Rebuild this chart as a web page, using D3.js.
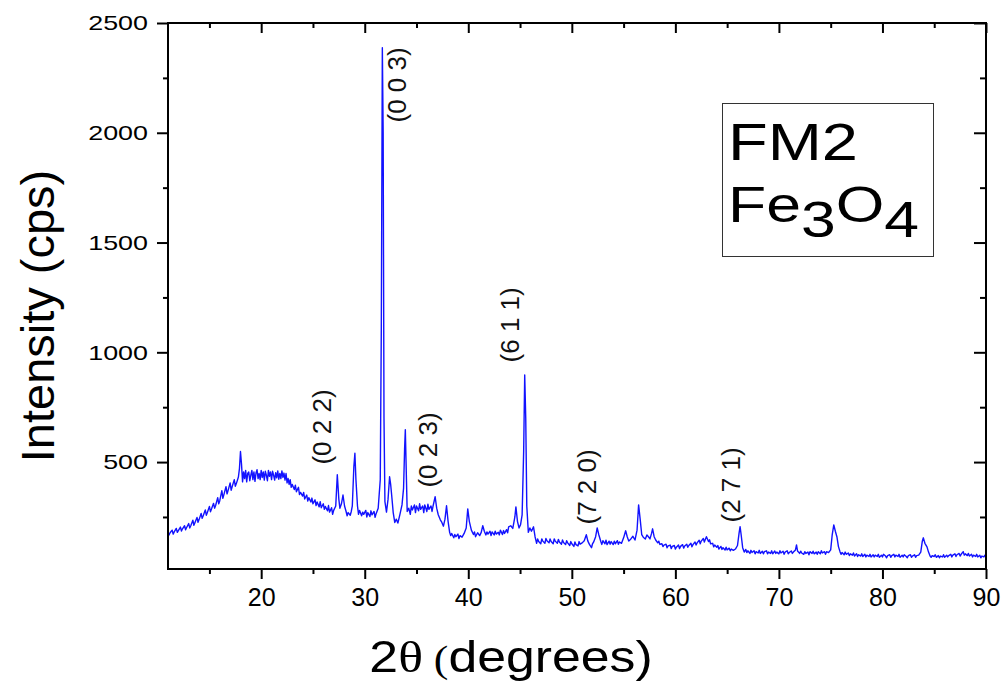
<!DOCTYPE html>
<html><head><meta charset="utf-8">
<script src="https://cdn.jsdelivr.net/npm/d3@7"></script>
<style>body{margin:0;background:#fff} svg{display:block}</style>
</head><body>
<svg id="c" width="1005" height="689"></svg>
<script>
// XRD pattern: [2θ (degrees), intensity (cps)]
const pattern = [
[11.0,182],[11.1,168],[11.2,178],[11.4,190],[11.5,172],[11.6,182],[11.8,198],[11.9,180],[12.0,188],[12.2,204],
[12.3,186],[12.4,196],[12.6,210],[12.7,192],[12.8,202],[13.0,220],[13.1,200],[13.2,210],[13.4,235],[13.5,212],
[13.6,224],[13.8,248],[13.9,226],[14.0,238],[14.2,266],[14.3,244],[14.4,256],[14.6,282],[14.7,258],[14.8,270],
[15.0,298],[15.1,274],[15.2,286],[15.4,312],[15.5,290],[15.6,302],[15.8,338],[15.9,310],[16.0,324],[16.2,370],
[16.3,335],[16.4,352],[16.6,388],[16.7,355],[16.8,370],[17.0,405],[17.1,372],[17.2,388],[17.4,420],[17.5,390],
[17.6,402],[17.8,432],[17.9,470],[18.0,548],[18.1,490],[18.2,410],[18.3,455],[18.4,425],[18.5,462],[18.6,410],
[18.7,448],[18.8,455],[18.9,415],[19.0,440],[19.1,462],[19.2,420],[19.3,455],[19.4,412],[19.5,450],[19.6,465],
[19.7,425],[19.8,448],[19.9,420],[20.0,462],[20.1,430],[20.2,455],[20.3,418],[20.4,458],[20.5,440],[20.6,415],
[20.7,462],[20.8,435],[20.9,455],[21.0,420],[21.1,458],[21.2,440],[21.3,418],[21.4,452],[21.5,428],[21.6,460],
[21.7,422],[21.8,448],[21.9,425],[22.0,460],[22.1,430],[22.2,450],[22.3,418],[22.4,448],[22.5,405],[22.6,425],
[22.7,398],[22.8,420],[22.9,385],[23.0,398],[23.2,375],[23.3,395],[23.4,365],[23.6,385],[23.7,352],[23.8,362],
[24.0,345],[24.1,362],[24.2,332],[24.4,350],[24.5,322],[24.6,338],[24.8,318],[24.9,336],[25.0,310],[25.2,328],
[25.3,302],[25.4,318],[25.6,296],[25.7,320],[25.8,292],[26.0,310],[26.1,285],[26.2,298],[26.4,278],[26.5,302],
[26.6,272],[26.8,292],[26.9,262],[27.0,280],[27.2,300],[27.35,442],[27.5,330],[27.6,290],[27.75,310],[27.9,350],
[28.05,300],[28.2,275],[28.3,255],[28.4,270],[28.6,258],[28.7,275],[28.8,300],[28.95,480],[29.05,540],[29.15,420],
[29.3,300],[29.4,262],[29.5,280],[29.7,255],[29.8,272],[29.9,262],[30.1,280],[30.2,250],[30.3,270],[30.5,252],
[30.6,278],[30.7,260],[30.9,275],[31.0,248],[31.1,265],[31.3,290],[31.5,420],[31.6,1100],[31.7,2387],[31.78,2000],
[31.86,700],[31.95,320],[32.1,272],[32.25,330],[32.4,433],[32.5,400],[32.6,350],[32.75,270],[32.9,225],[33.05,240],
[33.2,222],[33.4,262],[33.6,305],[33.75,380],[33.85,560],[33.92,647],[34.0,480],[34.1,275],[34.25,290],[34.4,262],
[34.5,300],[34.6,282],[34.8,305],[34.9,270],[35.0,300],[35.2,278],[35.3,310],[35.4,285],[35.6,300],[35.7,270],
[35.8,305],[36.0,275],[36.1,308],[36.2,285],[36.4,300],[36.5,275],[36.6,300],[36.8,342],[36.95,290],[37.1,260],
[37.3,237],[37.45,225],[37.6,208],[37.75,240],[37.9,301],[38.05,230],[38.2,180],[38.3,165],[38.4,175],[38.6,155],
[38.7,170],[38.8,160],[39.0,172],[39.1,152],[39.2,165],[39.4,158],[39.6,175],[39.8,200],[39.95,287],[40.1,230],
[40.3,190],[40.5,170],[40.6,182],[40.7,160],[40.9,178],[41.1,165],[41.25,180],[41.4,210],[41.55,185],[41.7,168],
[41.8,182],[41.9,172],[42.1,185],[42.2,165],[42.3,182],[42.5,168],[42.6,185],[42.7,172],[42.9,180],[43.0,168],
[43.1,190],[43.3,170],[43.4,188],[43.5,175],[43.7,192],[43.8,178],[43.9,205],[44.1,210],[44.3,198],[44.5,250],
[44.6,296],[44.75,230],[44.9,200],[45.05,215],[45.2,260],[45.35,550],[45.45,897],[45.55,700],[45.65,300],[45.8,180],
[45.95,200],[46.1,185],[46.3,205],[46.45,160],[46.6,130],[46.7,150],[46.8,138],[47.0,128],[47.1,150],[47.2,140],
[47.4,130],[47.5,152],[47.6,142],[47.8,132],[47.9,150],[48.0,138],[48.2,128],[48.3,150],[48.4,140],[48.6,130],
[48.7,148],[48.8,136],[49.0,126],[49.1,145],[49.2,134],[49.4,124],[49.5,142],[49.6,132],[49.8,120],[49.9,138],
[50.0,128],[50.2,116],[50.3,136],[50.4,124],[50.6,118],[50.7,138],[50.8,126],[51.0,132],[51.2,142],[51.4,169],
[51.55,140],[51.7,125],[51.9,110],[52.0,128],[52.1,135],[52.3,160],[52.45,200],[52.6,170],[52.8,138],[52.9,125],
[53.0,142],[53.2,128],[53.3,144],[53.4,124],[53.6,140],[53.7,126],[53.8,138],[54.0,124],[54.1,140],[54.2,128],
[54.4,142],[54.5,126],[54.6,136],[54.8,130],[55.0,155],[55.2,187],[55.35,160],[55.5,140],[55.7,150],[55.9,162],
[56.1,145],[56.3,190],[56.45,305],[56.6,240],[56.75,170],[56.9,158],[57.1,150],[57.25,168],[57.4,160],[57.55,150],
[57.7,175],[57.8,196],[57.95,160],[58.1,145],[58.3,132],[58.4,140],[58.5,125],[58.7,128],[58.8,115],[58.9,122],
[59.1,126],[59.2,110],[59.3,118],[59.5,122],[59.6,106],[59.7,116],[59.9,120],[60.0,104],[60.1,112],[60.3,122],
[60.4,106],[60.5,116],[60.7,124],[60.8,108],[60.9,118],[61.1,126],[61.2,112],[61.3,120],[61.5,130],[61.6,114],
[61.7,124],[61.9,136],[62.0,122],[62.1,132],[62.3,144],[62.4,128],[62.5,140],[62.7,152],[62.8,136],[62.9,148],
[63.0,160],[63.2,138],[63.3,146],[63.4,128],[63.6,130],[63.7,114],[63.8,122],[64.0,112],[64.1,120],[64.2,104],
[64.4,116],[64.5,102],[64.6,110],[64.8,100],[64.9,112],[65.0,100],[65.2,108],[65.3,96],[65.4,104],[65.6,98],
[65.8,104],[66.0,120],[66.15,175],[66.25,206],[66.35,170],[66.5,110],[66.65,90],[66.8,102],[66.9,88],[67.0,96],
[67.2,84],[67.3,98],[67.4,88],[67.6,96],[67.7,82],[67.8,92],[68.0,86],[68.1,98],[68.2,84],[68.4,94],
[68.5,82],[68.6,92],[68.8,96],[68.9,82],[69.0,90],[69.2,84],[69.3,96],[69.4,82],[69.6,95],[69.7,84],
[69.8,90],[70.0,82],[70.1,96],[70.2,86],[70.4,94],[70.5,80],[70.6,90],[70.8,96],[70.9,82],[71.0,88],
[71.2,95],[71.3,84],[71.4,90],[71.6,100],[71.7,123],[71.8,95],[72.0,84],[72.1,94],[72.2,86],[72.4,80],
[72.5,92],[72.6,84],[72.8,90],[72.9,78],[73.0,92],[73.2,84],[73.3,94],[73.4,82],[73.6,90],[73.7,80],
[73.8,92],[74.0,82],[74.1,96],[74.2,86],[74.4,92],[74.5,80],[74.6,92],[74.8,88],[75.0,100],[75.15,170],
[75.3,214],[75.45,185],[75.6,160],[75.75,115],[75.9,92],[76.0,80],[76.1,88],[76.3,78],[76.4,90],[76.5,80],
[76.7,86],[76.8,74],[76.9,82],[77.1,76],[77.2,86],[77.3,72],[77.5,82],[77.6,70],[77.7,78],[77.9,72],
[78.0,82],[78.1,70],[78.3,80],[78.4,68],[78.5,76],[78.7,70],[78.8,80],[78.9,68],[79.1,78],[79.2,68],
[79.3,76],[79.5,70],[79.6,80],[79.7,66],[79.9,76],[80.0,68],[80.1,80],[80.3,72],[80.4,64],[80.5,74],
[80.7,78],[80.8,66],[80.9,74],[81.1,80],[81.2,68],[81.3,76],[81.5,70],[81.6,80],[81.7,66],[81.9,76],
[82.0,68],[82.1,78],[82.3,70],[82.4,64],[82.5,74],[82.7,78],[82.8,66],[82.9,72],[83.1,78],[83.2,66],
[83.3,74],[83.5,76],[83.7,90],[83.85,140],[83.95,155],[84.1,130],[84.3,114],[84.45,90],[84.6,72],[84.7,66],
[84.8,74],[85.0,70],[85.1,78],[85.2,66],[85.4,74],[85.5,64],[85.6,72],[85.8,68],[85.9,78],[86.0,66],
[86.2,76],[86.3,68],[86.4,74],[86.6,80],[86.7,68],[86.8,76],[87.0,82],[87.1,70],[87.2,78],[87.4,84],
[87.5,72],[87.6,80],[87.8,92],[87.9,76],[88.0,82],[88.2,74],[88.3,84],[88.4,72],[88.6,80],[88.7,68],
[88.8,76],[89.0,70],[89.1,80],[89.2,68],[89.4,76],[89.5,64],[89.6,72],[89.8,68],[89.9,76],[90.0,68]
];

const xMajorTicks = [20, 30, 40, 50, 60, 70, 80, 90];
const xMinorTicks = [15, 25, 35, 45, 55, 65, 75, 85];
const yMajorTicks = [500, 1000, 1500, 2000, 2500];
const yMinorTicks = [250, 750, 1250, 1750, 2250];
const xDomain = [11, 90];
const yDomain = [13, 2500];

// Miller-index annotations placed at (2θ, intensity)
const peakLabels = ["(0 0 3)", "(0 2 2)", "(0 2 3)", "(6 1 1)", "(7 2 0)", "(2 7 1)"];
const peakLabelX = [33.1, 25.9, 36.1, 44.0, 51.5, 65.4];
const peakLabelY = [2218, 660, 555, 1125, 387, 396];

const xTitle = ["2", "θ", " (", "degrees)"];
const yTitle = "Intensity (cps)";
const legendName = "FM2";
const legendFormula = [["Fe", 0], ["3", 1], ["O", 0], ["4", 1]];

const FONT = "'Liberation Sans', Arial, sans-serif";
const SERIF = "'Liberation Serif', 'Times New Roman', serif";
const svg = d3.select("#c");
const x = d3.scaleLinear().domain(xDomain).range([168, 986]);
const y = d3.scaleLinear().domain(yDomain).range([569, 23]);

svg.append("rect").attr("width",1005).attr("height",689).attr("fill","#fff");

svg.append("clipPath").attr("id","clip").append("rect")
  .attr("x",x.range()[0]).attr("y",y.range()[1])
  .attr("width",x.range()[1]-x.range()[0]).attr("height",y.range()[0]-y.range()[1]);

svg.append("path").datum(pattern)
  .attr("clip-path","url(#clip)")
  .attr("fill","none").attr("stroke","#1212ff").attr("stroke-width",1.4)
  .attr("stroke-linejoin","round")
  .attr("d", d3.line().x(d=>x(d[0])).y(d=>y(d[1])));

function styleAxis(g){
  g.select(".domain").remove();
  g.selectAll(".tick line").attr("stroke","#000").attr("stroke-width",2);
}
const yb = y.range()[0], yt = y.range()[1], xl = x.range()[0], xr = x.range()[1];
const ySX = 1.28;

svg.append("g").attr("transform",`translate(0,${yb})`)
  .call(d3.axisBottom(x).tickValues(xMajorTicks).tickSize(10).tickPadding(9).tickFormat(d3.format("d")))
  .call(styleAxis)
  .call(g=>g.selectAll("text").attr("font-family",FONT).attr("font-size",25).attr("fill","#000"));
svg.append("g").attr("transform",`translate(0,${yb})`)
  .call(d3.axisBottom(x).tickValues(xMinorTicks).tickSize(5).tickFormat(""))
  .call(styleAxis);
svg.append("g").attr("transform",`translate(0,${yt})`)
  .call(d3.axisTop(x).tickValues(xMajorTicks).tickSize(-10).tickFormat(""))
  .call(styleAxis);
svg.append("g").attr("transform",`translate(0,${yt})`)
  .call(d3.axisTop(x).tickValues(xMinorTicks).tickSize(-5).tickFormat(""))
  .call(styleAxis);
svg.append("g").attr("transform",`translate(${xl},0)`)
  .call(d3.axisLeft(y).tickValues(yMajorTicks).tickSize(11).tickPadding(9).tickFormat(d3.format("d")))
  .call(styleAxis)
  .call(g=>g.selectAll("text").attr("font-family",FONT).attr("font-size",21).attr("fill","#000")
      .attr("x",-20/ySX).attr("transform",`scale(${ySX},1)`));
svg.append("g").attr("transform",`translate(${xl},0)`)
  .call(d3.axisLeft(y).tickValues(yMinorTicks).tickSize(5).tickFormat(""))
  .call(styleAxis);
svg.append("g").attr("transform",`translate(${xr},0)`)
  .call(d3.axisRight(y).tickValues(yMajorTicks).tickSize(-12).tickFormat(""))
  .call(styleAxis);
svg.append("g").attr("transform",`translate(${xr},0)`)
  .call(d3.axisRight(y).tickValues(yMinorTicks).tickSize(-6).tickFormat(""))
  .call(styleAxis);

svg.append("rect").attr("x",xl).attr("y",yt).attr("width",xr-xl).attr("height",yb-yt)
  .attr("fill","none").attr("stroke","#000").attr("stroke-width",2);

peakLabels.forEach((t,i)=>{
  svg.append("text")
    .attr("transform",`translate(${x(peakLabelX[i])},${y(peakLabelY[i])}) rotate(-90)`)
    .attr("text-anchor","middle").attr("dy","0.35em")
    .attr("font-family",FONT).attr("font-size",26).attr("fill","#111")
    .text(t);
});

const xt = svg.append("text").attr("transform","translate(511,672) scale(1.15,1)")
  .attr("text-anchor","middle").attr("font-family",FONT).attr("font-size",45).attr("fill","#000");
xt.append("tspan").text(xTitle[0]);
xt.append("tspan").attr("font-family",SERIF).text(xTitle[1]);
xt.append("tspan").attr("font-family",SERIF).attr("font-size",38).text(xTitle[2]);
xt.append("tspan").text(xTitle[3]);

svg.append("text").attr("transform","translate(54,316) rotate(-90)")
  .attr("text-anchor","middle").attr("font-family",FONT).attr("font-size",47).attr("fill","#000")
  .text(yTitle);

svg.append("rect").attr("x",722.5).attr("y",103.5).attr("width",211).attr("height",153)
  .attr("fill","#fff").attr("stroke","#333").attr("stroke-width",1);
svg.append("text").attr("transform","translate(728,160) scale(1.25,1)")
  .attr("font-family",FONT).attr("font-size",52).attr("fill","#000").text(legendName);
const lf = svg.append("text").attr("transform","translate(728,222) scale(1.25,1)")
  .attr("font-family",FONT).attr("font-size",50).attr("fill","#000");
legendFormula.forEach(([s,sub])=>{
  lf.append("tspan").attr("baseline-shift", sub ? "-15" : "0").text(s);
});
</script>
</body></html>
